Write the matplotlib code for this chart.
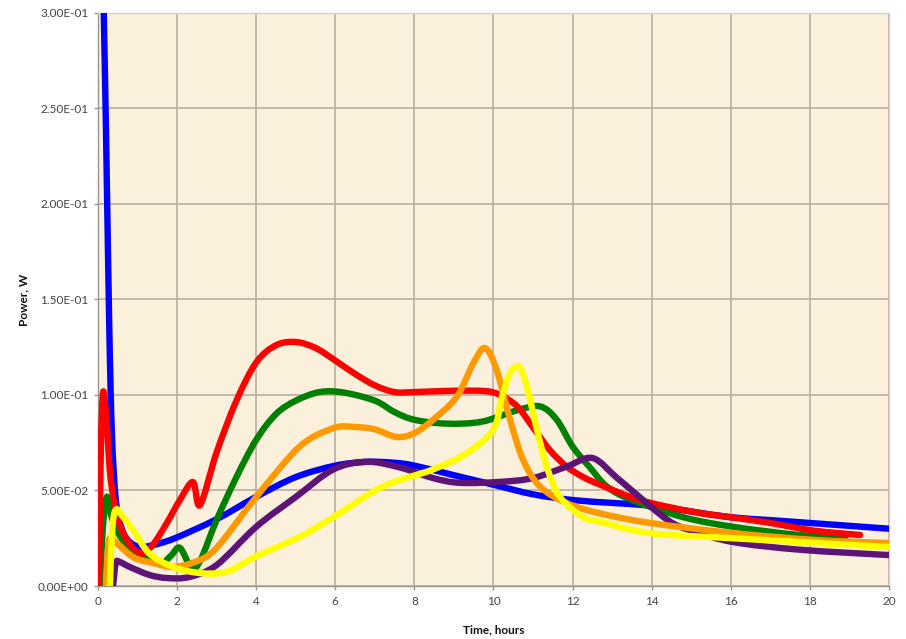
import matplotlib
matplotlib.use("Agg")
import matplotlib.pyplot as plt
import numpy as np
from matplotlib.path import Path
from matplotlib.patches import PathPatch

# ---- data (time in hours, power in W) ----
blue_t = [0.02, 0.1, 0.2, 0.28, 0.35, 0.45, 0.6, 0.8, 1.1, 1.5, 2.0, 3.0, 4.0, 5.0, 6.0, 6.8,
          7.5, 8.0, 9.0, 10.0, 11.0, 12.0, 13.0, 14.0, 15.0, 16.0, 17.0, 18.0, 19.0, 20.0]
blue_p = [0.45, 0.35, 0.24, 0.14, 0.08, 0.045, 0.03, 0.023, 0.0205, 0.022, 0.0255, 0.035, 0.0467,
          0.057, 0.063, 0.065, 0.0645, 0.063, 0.058, 0.053, 0.048, 0.045, 0.0435, 0.042, 0.039,
          0.036, 0.0345, 0.033, 0.0315, 0.030]

red_t = [0.02, 0.07, 0.13, 0.22, 0.3, 0.4, 0.55, 0.8, 1.1, 1.4, 1.74, 2.07, 2.4, 2.58, 3.0, 3.5,
         4.0, 4.5, 5.0, 5.5, 6.0, 6.5, 7.0, 7.5, 8.0, 9.0, 9.8, 10.16, 10.6, 11.0, 11.43, 11.85,
         12.27, 12.7, 13.7, 15.0, 16.0, 17.0, 18.1, 19.27]
red_p = [0.0, 0.07, 0.1015, 0.085, 0.06, 0.045, 0.032, 0.022, 0.017, 0.022, 0.033, 0.045, 0.0544,
         0.0424, 0.070, 0.097, 0.117, 0.126, 0.1277, 0.1246, 0.118, 0.111, 0.105, 0.1015, 0.1015,
         0.1022, 0.102, 0.100, 0.094, 0.083, 0.071, 0.0625, 0.057, 0.053, 0.045, 0.039, 0.036,
         0.033, 0.029, 0.0267]

green_t = [0.05, 0.12, 0.22, 0.32, 0.45, 0.7, 1.0, 1.57, 1.85, 2.07, 2.37, 2.6, 3.0, 3.5, 4.0,
           4.5, 5.0, 5.6, 6.2, 7.0, 7.5, 8.0, 8.8, 9.7, 10.6, 11.18, 11.6, 12.0, 12.44, 12.87,
           13.5, 14.8, 16.06, 17.75, 18.9]
green_p = [0.0, 0.03, 0.0466, 0.038, 0.03, 0.022, 0.017, 0.012, 0.016, 0.020, 0.0094, 0.014,
           0.0346, 0.057, 0.0765, 0.090, 0.097, 0.1015, 0.1013, 0.097, 0.091, 0.087, 0.085,
           0.086, 0.092, 0.094, 0.087, 0.073, 0.062, 0.052, 0.045, 0.036, 0.031, 0.0267, 0.0257]

orange_t = [0.2, 0.24, 0.3, 0.5, 0.9, 1.4, 1.9, 2.5, 3.0, 4.0, 5.1, 5.95, 6.45, 7.0, 7.55, 8.0,
            8.47, 9.07, 9.5, 9.79, 10.08, 10.42, 10.75, 11.18, 11.85, 12.7, 13.96, 16.06, 18.2,
            20.0]
orange_p = [0.0, 0.016, 0.025, 0.022, 0.015, 0.012, 0.010, 0.013, 0.020, 0.0466, 0.073, 0.0826,
            0.0833, 0.082, 0.078, 0.080, 0.087, 0.099, 0.117, 0.1245, 0.113, 0.087, 0.066, 0.052,
            0.0434, 0.038, 0.033, 0.0277, 0.024, 0.0225]

purple_t = [0.38, 0.45, 0.55, 0.8, 1.3, 1.74, 2.3, 3.0, 4.0, 5.0, 5.95, 6.8, 7.64, 8.47, 9.15,
            10.16, 11.0, 11.85, 12.5, 13.1, 13.5, 14.4, 15.0, 16.06, 17.75, 20.0]
purple_p = [0.0, 0.012, 0.0126, 0.010, 0.0058, 0.0042, 0.0047, 0.011, 0.031, 0.0466, 0.061,
            0.065, 0.062, 0.0565, 0.054, 0.0545, 0.0565, 0.0625, 0.067, 0.057, 0.050, 0.0346,
            0.029, 0.023, 0.019, 0.0162]

yellow_t = [0.3, 0.36, 0.45, 0.6, 0.9, 1.3, 1.9, 2.58, 3.26, 4.0, 5.1, 5.95, 7.2, 8.47, 9.33,
            10.0, 10.2, 10.42, 10.65, 10.85, 11.1, 11.35, 11.68, 12.27, 12.7, 13.96, 16.06, 18.2,
            20.0]
yellow_p = [0.0, 0.03, 0.040, 0.037, 0.029, 0.017, 0.010, 0.0068, 0.0075, 0.0155, 0.0257, 0.036,
            0.052, 0.061, 0.0696, 0.082, 0.098, 0.1115, 0.1147, 0.104, 0.0817, 0.0623, 0.0466,
            0.036, 0.0336, 0.0277, 0.025, 0.0225, 0.0204]

series = [
    (blue_t, blue_p, "#0000FF"),
    (green_t, green_p, "#008000"),
    (red_t, red_p, "#FF0000"),
    (purple_t, purple_p, "#5E1477"),
    (orange_t, orange_p, "#FF9900"),
    (yellow_t, yellow_p, "#FFFF00"),
]

y_ticks = [0.0, 0.05, 0.10, 0.15, 0.20, 0.25, 0.30]
x_ticks = [0, 2, 4, 6, 8, 10, 12, 14, 16, 18, 20]


def smooth_path(xs, ys):
    """Cardinal (Catmull-Rom) spline through the points as cubic Bezier segments."""
    pts = np.column_stack([xs, ys]).astype(float)
    n = len(pts)
    verts = [pts[0]]
    codes = [Path.MOVETO]
    for i in range(n - 1):
        p0 = pts[i - 1] if i > 0 else pts[i]
        p1 = pts[i]
        p2 = pts[i + 1]
        p3 = pts[i + 2] if i + 2 < n else pts[i + 1]
        c1 = p1 + (p2 - p0) / 6.0
        c2 = p2 - (p3 - p1) / 6.0
        verts += [c1, c2, p2]
        codes += [Path.CURVE4] * 3
    return Path(verts, codes)


fig = plt.figure(figsize=(9.06, 6.39), dpi=100)
fig.patch.set_facecolor("white")
ax = fig.add_axes([0.1082, 0.0829, 0.9812 - 0.1082, 0.980 - 0.0829])
ax.set_facecolor("#FAF0DC")

ax.set_xlim(0, 20)
ax.set_ylim(0, 0.30)
ax.set_xticks(x_ticks)
ax.set_yticks(y_ticks)
ax.set_xticklabels([str(v) for v in x_ticks])
ax.set_yticklabels([f"{v:.2E}" for v in y_ticks])

ax.grid(True, color="#B9B0A3", linewidth=1.2)
ax.set_axisbelow(True)
for side in ["top", "right"]:
    ax.spines[side].set_color("#D6D0C6")
    ax.spines[side].set_linewidth(1.0)
for side in ["left", "bottom"]:
    ax.spines[side].set_color("#9A958D")
    ax.spines[side].set_linewidth(1.0)

ax.tick_params(axis="both", colors="#9A958D", length=3, width=1, labelcolor="#444444",
               labelsize=8.5, pad=4)
for lab in ax.get_xticklabels() + ax.get_yticklabels():
    lab.set_family("Lato")

for t, p, c in series:
    patch = PathPatch(smooth_path(t, p), facecolor="none", edgecolor=c, linewidth=4.6,
                      capstyle="round", joinstyle="round", zorder=3)
    patch.set_clip_path(ax.patch)
    ax.add_patch(patch)

ax.set_xlabel("Time, hours", fontsize=8.5, fontweight="bold", family="Lato", color="#111111",
              labelpad=13)
ax.set_ylabel("Power, W", fontsize=8.5, fontweight="bold", family="Lato", color="#111111",
              labelpad=6)

fig.savefig("out.png", dpi=100, facecolor="white")
